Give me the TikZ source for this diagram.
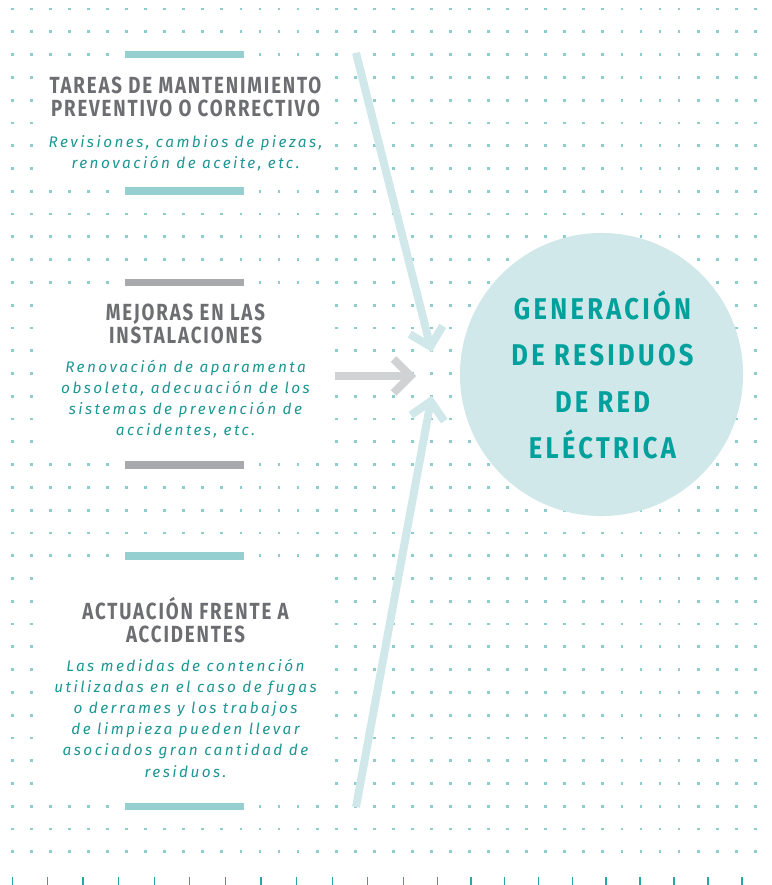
\documentclass[tikz,border=0pt]{standalone}
\usepackage{fontspec}
\usetikzlibrary{calc}
\setmainfont{Fira Sans}
\newfontfamily\headfont[FakeStretch=0.8,LetterSpace=8]{Fira Sans}
\newfontfamily\bodyfont[LetterSpace=16]{Fira Sans}
\newfontfamily\circfont[FakeStretch=0.85,LetterSpace=11]{Fira Sans}
\definecolor{dotc}{RGB}{143,205,205}
\definecolor{barteal}{RGB}{150,207,207}
\definecolor{bargray}{RGB}{167,169,172}
\definecolor{headgray}{RGB}{109,110,113}
\definecolor{bodyteal}{RGB}{30,150,148}
\definecolor{circfill}{RGB}{208,232,233}
\definecolor{circtext}{RGB}{0,160,156}
\definecolor{arrgray}{RGB}{209,210,212}
\definecolor{tickc}{RGB}{40,168,165}
\tikzset{
  head/.style={anchor=base,inner sep=0pt,text=headgray,font=\headfont\bfseries\fontsize{17.5}{17.7}\selectfont},
  body/.style={anchor=base,inner sep=0pt,text=bodyteal,font=\bodyfont\itshape\fontsize{11.5}{15.8}\selectfont},
  ctext/.style={anchor=base,inner sep=0pt,text=circtext,font=\circfont\bfseries\fontsize{22.5}{34.9}\selectfont},
  arr/.style={line width=6pt,line cap=butt,line join=miter},
  tealbar/.style={fill=barteal},
  graybar/.style={fill=bargray},
}
\begin{document}
\begin{tikzpicture}[x=0.75pt,y=-0.75pt]
\useasboundingbox (0,0) rectangle (771,885);
% dot grid
\foreach \i in {0,...,39}{\foreach \k in {0,...,37}{
  \fill[dotc] ({12.3+19.05*\i-1.4},{9+22.78*\k-1.4}) rectangle ++(2.8,2.8);}}
% white masks behind text blocks
\fill[white] (41,66) rectangle (327,180);
\fill[white] (41,294) rectangle (327,454);
\fill[white] (41,567) rectangle (327,796);
% bars
\fill[tealbar] (125,50.7) rectangle (244.3,58.4);
\fill[tealbar] (125,187.4) rectangle (244.3,195.1);
\fill[graybar] (125,278.5) rectangle (244.3,286.2);
\fill[graybar] (125,460.8) rectangle (244.3,468.5);
\fill[tealbar] (125,551.9) rectangle (244.3,559.6);
\fill[tealbar] (125,802.5) rectangle (244.3,810.2);
% bottom ticks
\foreach \x in {12.3,47.7,83,118.3,154.3,189.7,225.3,261,296.3,332.3,367.7,403.3,437.3,471,504.7,538.7,572.3,606,640,674,708,742}
  \draw[tickc,line width=1pt] (\x,877) -- (\x,885);
% circle
\node[circle,fill=circfill,inner sep=0pt,minimum size=212.3pt] (circ) at (601.5,374.5) {};
\node[ctext] (ctxt) at (602.5,319) {\begin{tabular}[t]{@{}c@{}}GENERACIÓN\\DE RESIDUOS\\DE RED\\ELÉCTRICA\end{tabular}};
% arrows
\coordinate (s1) at (356,53);
\coordinate (t1) at (430.4,346.5);
\coordinate (s2) at (335,376);
\coordinate (t2) at (410.5,376);
\coordinate (s3) at (356,807);
\coordinate (t3) at (430.7,401.4);
\draw[arr,circfill] (s1) -- (t1);
\draw[arr,circfill] ($(t1)!18pt!-45:(s1)$) -- (t1) -- ($(t1)!18pt!45:(s1)$);
\draw[arr,arrgray] (s2) -- (t2);
\draw[arr,arrgray] ($(t2)!18pt!-45:(s2)$) -- (t2) -- ($(t2)!18pt!45:(s2)$);
\draw[arr,circfill] (s3) -- (t3);
\draw[arr,circfill] ($(t3)!18pt!-45:(s3)$) -- (t3) -- ($(t3)!18pt!45:(s3)$);
% section 1
\node[head] (h1) at (185.5,93.3) {\begin{tabular}[t]{@{}c@{}}TAREAS DE MANTENIMIENTO\\PREVENTIVO O CORRECTIVO\end{tabular}};
\node[body] (b1) at (185.5,147.3) {\begin{tabular}[t]{@{}c@{}}Revisiones, cambios de piezas,\\renovación de aceite, etc.\end{tabular}};
% section 2
\node[head] (h2) at (185.5,320) {\begin{tabular}[t]{@{}c@{}}MEJORAS EN LAS\\INSTALACIONES\end{tabular}};
\node[body] (b2) at (185.5,372.3) {\begin{tabular}[t]{@{}c@{}}Renovación de aparamenta\\obsoleta, adecuación de los\\sistemas de prevención de\\accidentes, etc.\end{tabular}};
% section 3
\node[head] (h3) at (185.5,619.3) {\begin{tabular}[t]{@{}c@{}}ACTUACIÓN FRENTE A\\ACCIDENTES\end{tabular}};
\node[body] (b3) at (185.5,671.7) {\begin{tabular}[t]{@{}c@{}}Las medidas de contención\\utilizadas en el caso de fugas\\o derrames y los trabajos\\de limpieza pueden llevar\\asociados gran cantidad de\\residuos.\end{tabular}};
\end{tikzpicture}
\end{document}
